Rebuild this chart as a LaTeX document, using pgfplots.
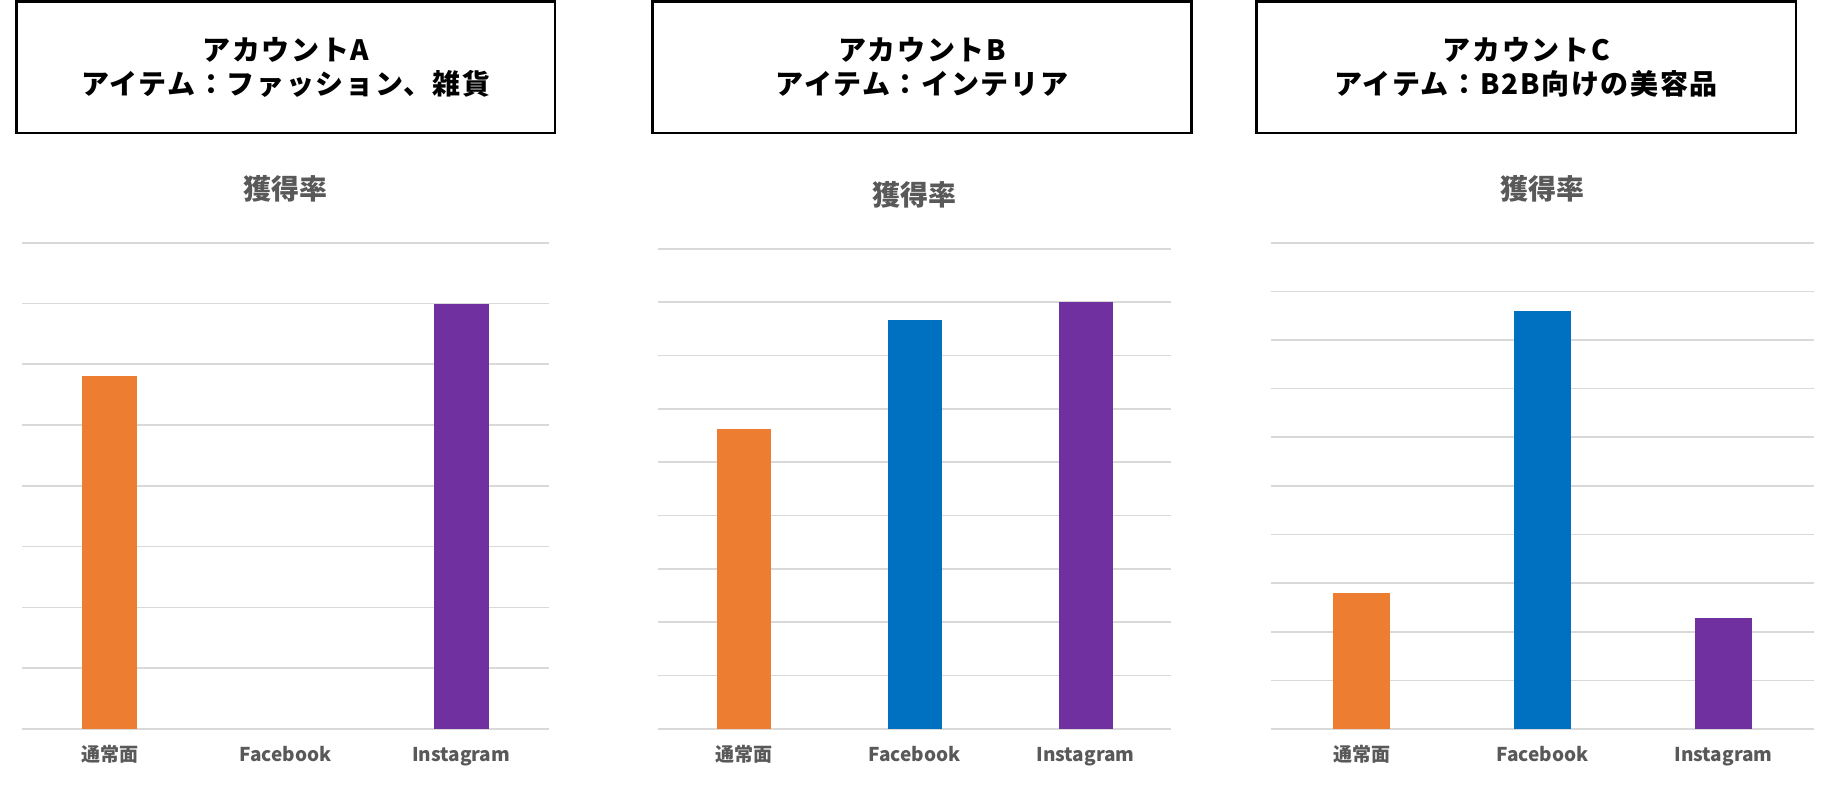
\documentclass[border=0pt]{standalone}
\usepackage{fontspec}
\setmainfont{Noto Sans CJK JP}
\newfontfamily\boxfont{Noto Sans CJK JP}[LetterSpace=6]
\usepackage{pgfplots}
\pgfplotsset{compat=1.18}
\definecolor{cOr}{HTML}{ED7D31}
\definecolor{cBl}{HTML}{0070C0}
\definecolor{cPu}{HTML}{7030A0}
\definecolor{cGr}{HTML}{D9D9D9}
\definecolor{cTx}{HTML}{595959}
\pgfplotsset{panel/.style={
  scale only axis, xmin=-0.5, xmax=2.5, ymin=0,
  axis line style={draw=none}, major tick length=0pt,
  ymajorgrids, grid style={cGr, line width=0.8pt},
  yticklabels={},
  xtick={0,1,2}, xticklabels={通常面,Facebook,Instagram},
  xticklabel style={font=\fontsize{9.5pt}{11pt}\selectfont\bfseries, text=cTx, anchor=base, yshift=-16pt},
  title=獲得率,
  title style={font=\fontsize{14pt}{16pt}\selectfont\bfseries, text=cTx, anchor=center, yshift=21pt},
  clip=false,
}}
\begin{document}
\begin{tikzpicture}
\useasboundingbox[fill=white] (0pt,0pt) rectangle (918pt,-393.5pt);
% title boxes
\draw[line width=1.25pt] (8.3pt,-0.7pt) rectangle (277.5pt,-66.5pt);
\draw[line width=1.25pt] (326.15pt,-0.7pt) rectangle (595.85pt,-66.5pt);
\draw[line width=1.25pt] (628.35pt,-0.7pt) rectangle (897.9pt,-66.5pt);
\node[align=center, font=\boxfont\fontsize{14pt}{17pt}\selectfont\bfseries] at (142.9pt,-33.5pt) {アカウントA\\アイテム：ファッション、雑貨};
\node[align=center, font=\boxfont\fontsize{14pt}{17pt}\selectfont\bfseries] at (461pt,-33.5pt) {アカウントB\\アイテム：インテリア};
\node[align=center, font=\boxfont\fontsize{14pt}{17pt}\selectfont\bfseries] at (763.1pt,-33.5pt) {アカウントC\\アイテム：B2B向けの美容品};
% Panel A
\begin{axis}[panel, at={(11pt,-364.5pt)}, anchor=south west, width=263.5pt, height=243.15pt, ymax=8, ytick={0,1,...,8}]
\addplot[ybar, bar width=27.5pt, bar shift=0pt, fill=cOr, draw=none] coordinates {(0,5.8)};
\addplot[ybar, bar width=27.5pt, bar shift=0pt, fill=none, draw=none] coordinates {(1,0)};
\addplot[ybar, bar width=27.5pt, bar shift=0pt, fill=cPu, draw=none] coordinates {(2,7.0)};
\end{axis}
% Panel B
\begin{axis}[panel, at={(329pt,-364.5pt)}, anchor=south west, width=256.5pt, height=240.15pt, ymax=9, ytick={0,1,...,9}]
\addplot[ybar, bar width=27pt, bar shift=0pt, fill=cOr, draw=none] coordinates {(0,5.63)};
\addplot[ybar, bar width=27pt, bar shift=0pt, fill=cBl, draw=none] coordinates {(1,7.67)};
\addplot[ybar, bar width=27pt, bar shift=0pt, fill=cPu, draw=none] coordinates {(2,8.0)};
\end{axis}
% Panel C
\begin{axis}[panel, at={(635.5pt,-364.5pt)}, anchor=south west, width=271.5pt, height=243.15pt, ymax=10, ytick={0,1,...,10}]
\addplot[ybar, bar width=28.5pt, bar shift=0pt, fill=cOr, draw=none] coordinates {(0,2.79)};
\addplot[ybar, bar width=28.5pt, bar shift=0pt, fill=cBl, draw=none] coordinates {(1,8.59)};
\addplot[ybar, bar width=28.5pt, bar shift=0pt, fill=cPu, draw=none] coordinates {(2,2.29)};
\end{axis}
\end{tikzpicture}
\end{document}
